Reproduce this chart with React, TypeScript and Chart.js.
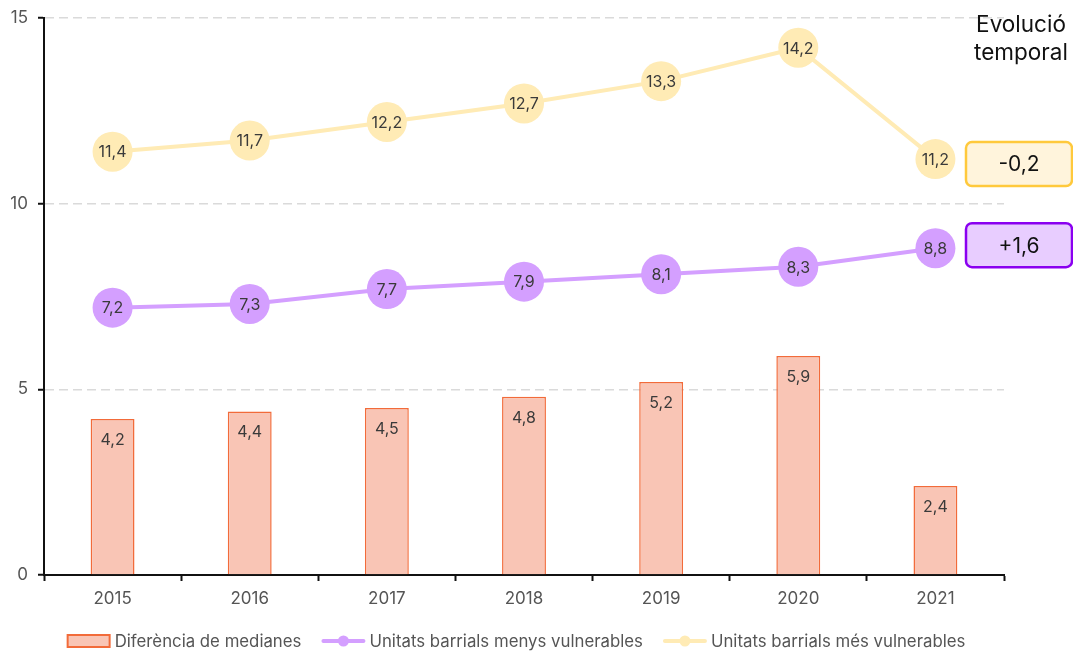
import React, { useEffect, useRef } from "react";
import { Chart, registerables } from "chart.js";

Chart.register(...registerables);

const years = ["2015", "2016", "2017", "2018", "2019", "2020", "2021"];
const diferenciaMedianes = [4.2, 4.4, 4.5, 4.8, 5.2, 5.9, 2.4];
const menysVulnerables = [7.2, 7.3, 7.7, 7.9, 8.1, 8.3, 8.8];
const mesVulnerables = [11.4, 11.7, 12.2, 12.7, 13.3, 14.2, 11.2];
const yTickValues = [0, 5, 10, 15];
const seriesNames = [
  "Diferència de medianes",
  "Unitats barrials menys vulnerables",
  "Unitats barrials més vulnerables",
];
const evolucioMes = "-0,2";
const evolucioMenys = "+1,6";
const titleLines = ["Evolució", "temporal"];

const FONT = "Inter, 'Noto Sans', sans-serif";
const BAR_FILL = "#F9C5B5";
const BAR_BORDER = "#F26B3A";
const PURPLE = "#D49FFF";
const YELLOW = "#FFEBB5";

const fmt = (v: number) => v.toFixed(1).replace(".", ",");

const valueLabels = {
  id: "valueLabels",
  afterDatasetsDraw(chart: any) {
    const ctx = chart.ctx;
    chart.data.datasets.forEach((ds: any, i: number) => {
      const meta = chart.getDatasetMeta(i);
      meta.data.forEach((el: any, j: number) => {
        const txt = fmt(ds.data[j]);
        ctx.save();
        ctx.font = `16px ${FONT}`;
        ctx.fillStyle = "#3A3A3A";
        ctx.textAlign = "center";
        ctx.textBaseline = "middle";
        if (ds.type === "bar") ctx.fillText(txt, el.x, el.y + 21);
        else ctx.fillText(txt, el.x, el.y + 1);
        ctx.restore();
      });
    });
  },
};

function drawIcon(ctx: CanvasRenderingContext2D, kind: string, x: number, cy: number, fill: string, stroke: string) {
  if (kind === "bar") {
    ctx.fillStyle = fill;
    ctx.fillRect(x + 1, cy - 6, 42, 12);
    ctx.strokeStyle = stroke;
    ctx.lineWidth = 2;
    ctx.strokeRect(x + 1, cy - 6, 42, 12);
  } else {
    ctx.strokeStyle = fill;
    ctx.lineWidth = 4;
    ctx.lineCap = "round";
    ctx.beginPath();
    ctx.moveTo(x + 2, cy);
    ctx.lineTo(x + 42, cy);
    ctx.stroke();
    ctx.fillStyle = fill;
    ctx.beginPath();
    ctx.arc(x + 22, cy, 5.5, 0, Math.PI * 2);
    ctx.fill();
  }
}

const customLegend = {
  id: "customLegend",
  afterDraw(chart: any) {
    const ctx = chart.ctx;
    const kinds = ["bar", "line", "line"];
    const fills = [BAR_FILL, PURPLE, YELLOW];
    const strokes = [BAR_BORDER, PURPLE, YELLOW];
    const iconW = 44;
    const gapText = 4;
    const gapItem = 20;
    ctx.save();
    ctx.font = `16.8px ${FONT}`;
    const widths = seriesNames.map((s) => ctx.measureText(s).width);
    const total = widths.reduce((a, w) => a + iconW + gapText + w, 0) + gapItem * (seriesNames.length - 1);
    let x = 516 - total / 2;
    const cy = 641;
    seriesNames.forEach((name, i) => {
      drawIcon(ctx, kinds[i], x, cy, fills[i], strokes[i]);
      x += iconW + gapText;
      ctx.fillStyle = "#555";
      ctx.textAlign = "left";
      ctx.textBaseline = "middle";
      ctx.fillText(name, x, cy + 1);
      x += widths[i] + gapItem;
    });
    ctx.restore();
  },
};

const badges = {
  id: "badges",
  afterDraw(chart: any) {
    const ctx = chart.ctx;
    const ys = chart.scales.y;
    const left = chart.chartArea.right - 38;
    const w = 106;
    const h = 44;
    const items = [
      { text: evolucioMes, v: mesVulnerables[mesVulnerables.length - 1], off: 5, fill: "#FFF4DC", stroke: "#FFC93C" },
      { text: evolucioMenys, v: menysVulnerables[menysVulnerables.length - 1], off: -3, fill: "#E8CDFF", stroke: "#8A00F0" },
    ];
    ctx.save();
    items.forEach((it) => {
      const cy = ys.getPixelForValue(it.v) + it.off;
      ctx.beginPath();
      (ctx as any).roundRect(left, cy - h / 2, w, h, 6);
      ctx.fillStyle = it.fill;
      ctx.fill();
      ctx.lineWidth = 2.5;
      ctx.strokeStyle = it.stroke;
      ctx.stroke();
      ctx.fillStyle = "#111";
      ctx.font = `21px ${FONT}`;
      ctx.textAlign = "center";
      ctx.textBaseline = "middle";
      ctx.fillText(it.text, left + w / 2, cy + 1);
    });
    ctx.font = `22.5px ${FONT}`;
    ctx.fillStyle = "#111";
    ctx.textAlign = "center";
    ctx.textBaseline = "middle";
    ctx.fillText(titleLines[0], 1021, 25);
    ctx.fillText(titleLines[1], 1021, 53);
    ctx.restore();
  },
};

export default function App() {
  const ref = useRef<HTMLCanvasElement>(null);

  useEffect(() => {
    document.body.style.margin = "0";
    const chart = new Chart(ref.current!, {
      type: "bar",
      data: {
        labels: years,
        datasets: [
          {
            type: "bar",
            label: seriesNames[0],
            data: diferenciaMedianes,
            backgroundColor: BAR_FILL,
            borderColor: BAR_BORDER,
            borderWidth: 1.5,
            categoryPercentage: 1,
            barPercentage: 0.32,
          },
          {
            type: "line",
            label: seriesNames[1],
            data: menysVulnerables,
            borderColor: PURPLE,
            backgroundColor: PURPLE,
            borderWidth: 4,
            pointRadius: 20,
            pointHoverRadius: 20,
            pointBorderWidth: 0,
            pointBackgroundColor: PURPLE,
            tension: 0,
          },
          {
            type: "line",
            label: seriesNames[2],
            data: mesVulnerables,
            borderColor: YELLOW,
            backgroundColor: YELLOW,
            borderWidth: 4,
            pointRadius: 20,
            pointHoverRadius: 20,
            pointBorderWidth: 0,
            pointBackgroundColor: YELLOW,
            tension: 0,
          },
        ] as any,
      },
      options: {
        animation: false,
        responsive: false,
        layout: { autoPadding: false, padding: { top: 18, right: 69, left: 0, bottom: 40 } },
        scales: {
          x: {
            offset: true,
            grid: {
              display: true,
              drawOnChartArea: false,
              drawTicks: true,
              tickLength: 6,
              tickColor: "#111",
              tickWidth: 2,
              offset: true,
            },
            border: { display: true, color: "#111", width: 2 },
            ticks: { color: "#555", font: { size: 17, family: FONT }, padding: 8 },
            afterFit: (s: any) => {
              s.height = 38;
            },
          },
          y: {
            min: 0,
            max: 15,
            afterBuildTicks: (s: any) => {
              s.ticks = yTickValues.map((v) => ({ value: v }));
            },
            grid: {
              color: "#DADADA",
              lineWidth: 1.5,
              tickLength: 6,
              tickColor: "#111",
              tickWidth: 2,
            },
            border: { display: true, color: "#111", width: 2, dash: [9, 5] },
            ticks: {
              color: "#555",
              font: { size: 17, family: FONT, lineHeight: 0.8 },
              padding: 10,
              callback: (v: any) => String(v),
            },
            afterFit: (s: any) => {
              s.width = 44;
            },
          },
        },
        plugins: {
          tooltip: { enabled: false },
          legend: { display: false },
        },
      },
      plugins: [valueLabels, badges, customLegend],
    } as any);
    return () => chart.destroy();
  }, []);

  return (
    <div style={{ width: 1073, height: 653 }}>
      <canvas ref={ref} width={1073} height={653} style={{ display: "block" }} />
    </div>
  );
}
